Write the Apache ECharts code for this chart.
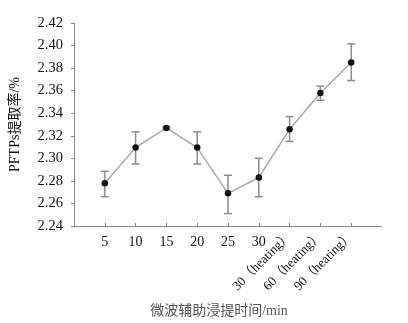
<!DOCTYPE html>
<html>
<head>
<meta charset="utf-8">
<script src="https://cdn.jsdelivr.net/npm/echarts@6/dist/echarts.min.js"></script>
<style>
  html, body { margin: 0; padding: 0; background: #fff; }
  #chart { width: 408px; height: 323px; }
</style>
</head>
<body>
<div id="chart"></div>
<script>
// empty slots at both ends keep the points off the axis ends
const categories = ['', '5', '10', '15', '20', '25', '30', '30（heating）', '60（heating）', '90（heating）', ''];
const rates = [null, 2.278, 2.3095, 2.327, 2.3095, 2.269, 2.283, 2.3257, 2.358, 2.385, null];
const errLow = [null, 2.266, 2.295, 2.326, 2.295, 2.251, 2.266, 2.315, 2.3515, 2.369, null];
const errHigh = [null, 2.2885, 2.3235, 2.328, 2.3235, 2.285, 2.300, 2.337, 2.364, 2.4015, null];
const yTicks = { min: 2.24, max: 2.42, step: 0.02 };

const serif = '"Liberation Serif", "Noto Sans CJK SC", serif';
const axisGray = '#8a8a8a';

const chart = echarts.init(document.getElementById('chart'));

const errorData = categories
  .map((c, i) => [i, errLow[i], errHigh[i]])
  .filter(d => d[1] != null);

const isHeating = label => label.indexOf('heating') >= 0;

const option = {
  animation: false,
  grid: { left: 72, right: 26, top: 23, bottom: 92 },
  xAxis: [
    {
      type: 'category',
      data: categories,
      boundaryGap: false,
      name: '微波辅助浸提时间/min',
      nameLocation: 'middle',
      nameGap: 78,
      nameTextStyle: { fontFamily: serif, fontSize: 14, color: '#555', padding: [0, 18, 0, 0] },
      axisLine: { lineStyle: { color: axisGray, width: 1 } },
      axisTick: {
        inside: true,
        length: 3,
        interval: (i, v) => v !== '',
        lineStyle: { color: axisGray }
      },
      axisLabel: {
        interval: 0,
        margin: 9,
        fontFamily: serif,
        fontSize: 14,
        color: '#111',
        formatter: v => (isHeating(v) ? '' : v)
      },
      splitLine: { show: false }
    },
    {
      type: 'category',
      data: categories,
      boundaryGap: false,
      position: 'bottom',
      axisLine: { show: false },
      axisTick: { show: false },
      axisLabel: {
        interval: 0,
        rotate: 45,
        margin: 8,
        fontFamily: serif,
        fontSize: 13,
        color: '#111',
        formatter: v => (isHeating(v) ? v : '')
      },
      splitLine: { show: false }
    }
  ],
  yAxis: {
    type: 'value',
    min: yTicks.min,
    max: yTicks.max,
    interval: yTicks.step,
    name: 'PFTPs提取率/%',
    nameLocation: 'middle',
    nameGap: 52,
    nameRotate: 90,
    nameTextStyle: { fontFamily: serif, fontSize: 14, color: '#111' },
    axisLine: { show: true, lineStyle: { color: axisGray, width: 1 } },
    axisTick: { show: true, length: 3, lineStyle: { color: axisGray } },
    axisLabel: {
      fontFamily: serif,
      fontSize: 14.5,
      color: '#111',
      margin: 11,
      formatter: v => v.toFixed(2)
    },
    splitLine: { show: false }
  },
  series: [
    {
      type: 'line',
      data: rates,
      symbol: 'circle',
      symbolSize: 6.5,
      lineStyle: { color: '#a8a8a8', width: 1.5 },
      itemStyle: { color: '#111' },
      z: 3
    },
    {
      type: 'custom',
      data: errorData,
      z: 2,
      renderItem: (params, api) => {
        const x = api.value(0);
        const lo = api.coord([x, api.value(1)]);
        const hi = api.coord([x, api.value(2)]);
        const cap = 4;
        const style = { stroke: '#8c8c8c', lineWidth: 1.5 };
        return {
          type: 'group',
          children: [
            { type: 'line', shape: { x1: lo[0], y1: lo[1], x2: hi[0], y2: hi[1] }, style },
            { type: 'line', shape: { x1: lo[0] - cap, y1: lo[1], x2: lo[0] + cap, y2: lo[1] }, style },
            { type: 'line', shape: { x1: hi[0] - cap, y1: hi[1], x2: hi[0] + cap, y2: hi[1] }, style }
          ]
        };
      }
    }
  ]
};

chart.setOption(option);
</script>
</body>
</html>
